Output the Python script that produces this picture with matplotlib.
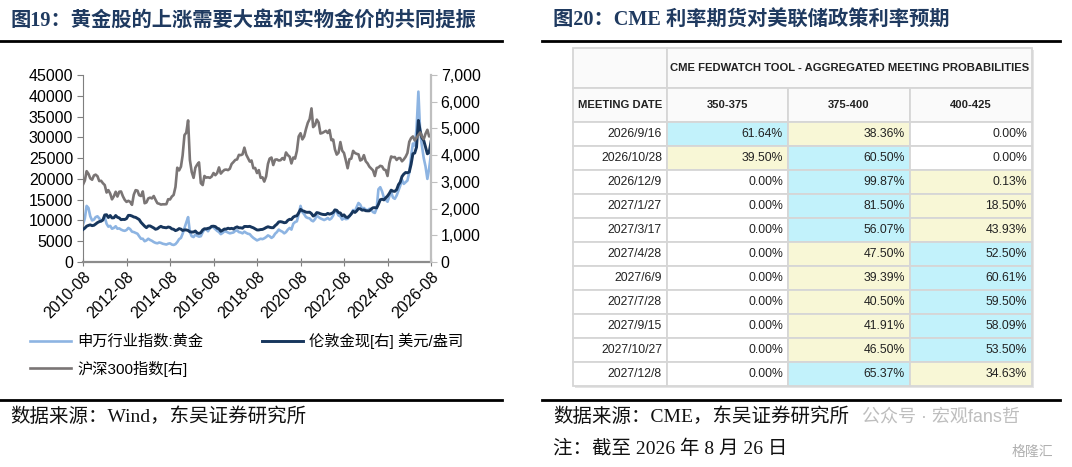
import matplotlib
matplotlib.use("Agg")
import matplotlib.pyplot as plt
import matplotlib.dates as mdates
from matplotlib.lines import Line2D
from matplotlib.patches import Rectangle
from matplotlib.ticker import FuncFormatter, MultipleLocator
import pandas as pd

plt.rcParams['font.family'] = ['Liberation Sans', 'Noto Sans CJK SC']

# ---- left chart data: monthly, 2010-08 .. 2026-08 ----
months = pd.date_range('2010-08-01', '2026-08-01', freq='MS')

# 申万行业指数:黄金 (left axis)
sw_gold = [
    9000, 10500, 13500, 13000, 11000,
    10000, 10200, 10800, 11000, 10500, 9800, 10200, 10800, 9200, 8500, 8700, 8000,
    8200, 8600, 8000, 8100, 7800, 7600, 7500, 7700, 8200, 7900, 7300, 7200,
    7000, 6800, 6200, 5600, 5600, 5000, 5200, 5600, 5300, 5100, 4800, 4600,
    4500, 4700, 4600, 4400, 4300, 4200, 4400, 4500, 4200, 4100, 4300, 4800,
    5500, 5800, 6800, 8200, 9500, 10800, 7200, 6200, 6000, 6600, 6300, 6100,
    6200, 7200, 7800, 7900, 7400, 8200, 8600, 8300, 7900, 7500, 7200, 6700,
    7000, 7400, 7300, 7100, 6900, 7000, 7100, 7500, 7600, 7200, 7100, 6900,
    7300, 7000, 6800, 6700, 6200, 5800, 5500, 5200, 5400, 5600, 5500, 5700,
    6000, 6400, 6200, 5800, 6100, 6800, 7200, 7800, 7500, 7300, 6900, 7200,
    7800, 8200, 7800, 9200, 9600, 9800, 11500, 13500, 12000, 11500, 10800, 10600,
    10500, 10000, 9800, 10300, 11200, 10800, 10500, 10300, 10100, 10300, 10600, 10200,
    10500, 11200, 12500, 12000, 11200, 11000, 10200, 10600, 10300, 10400, 11000, 11600,
    12500, 12200, 13200, 14200, 13800, 12800, 13000, 12600, 12400, 12800, 12600, 12000,
    11800, 13000, 17500, 18000, 17000, 15500, 15000, 14500, 15800, 16800, 15500, 15200,
    16000, 17200, 18300, 19800, 18800, 19200, 19600, 21500, 25500, 28500, 28000, 32000,
    41000, 31000, 28000, 25000, 23000, 20000, 22500, 26000,
]

# 伦敦金现[右] 美元/盎司
london_gold = [
    1215, 1270, 1340, 1370, 1390,
    1360, 1375, 1420, 1475, 1510, 1530, 1570, 1760, 1770, 1665, 1740, 1650,
    1655, 1740, 1675, 1650, 1585, 1595, 1590, 1625, 1745, 1745, 1720, 1685,
    1670, 1630, 1590, 1485, 1415, 1340, 1285, 1350, 1350, 1315, 1275, 1225,
    1245, 1300, 1335, 1300, 1290, 1280, 1310, 1295, 1240, 1225, 1175, 1200,
    1250, 1230, 1180, 1200, 1200, 1180, 1130, 1120, 1125, 1160, 1085, 1070,
    1100, 1200, 1245, 1240, 1260, 1275, 1335, 1340, 1325, 1265, 1240, 1150,
    1190, 1235, 1230, 1265, 1245, 1260, 1235, 1285, 1315, 1280, 1280, 1265,
    1330, 1330, 1325, 1335, 1305, 1280, 1240, 1200, 1200, 1215, 1220, 1250,
    1290, 1320, 1300, 1285, 1285, 1360, 1415, 1500, 1510, 1495, 1470, 1480,
    1560, 1600, 1590, 1680, 1715, 1730, 1840, 1970, 1920, 1900, 1865, 1860,
    1865, 1810, 1720, 1760, 1850, 1835, 1805, 1785, 1775, 1775, 1820, 1790,
    1815, 1855, 1950, 1935, 1850, 1835, 1730, 1765, 1680, 1665, 1725, 1800,
    1900, 1855, 1910, 2000, 1990, 1940, 1950, 1920, 1915, 1915, 1985, 2030,
    2035, 2025, 2160, 2330, 2350, 2325, 2400, 2470, 2570, 2690, 2650, 2645,
    2710, 2895, 2985, 3200, 3290, 3350, 3340, 3370, 3660, 4050, 4080, 4300,
    5300, 4900, 4650, 4550, 4300, 4050, 4100, 4500,
]

# 沪深300指数[右]
csi300 = [
    2900, 3050, 3400, 3300, 3130,
    3080, 3240, 3270, 3210, 3030, 3040, 2950, 2880, 2600, 2690, 2560, 2345,
    2460, 2630, 2450, 2630, 2640, 2460, 2330, 2250, 2290, 2250, 2140, 2520,
    2690, 2670, 2500, 2470, 2640, 2200, 2230, 2380, 2410, 2380, 2470, 2330,
    2200, 2180, 2150, 2160, 2160, 2165, 2350, 2340, 2450, 2510, 2810, 3530,
    3430, 3570, 3990, 4750, 4840, 5300, 3820, 3370, 3150, 3530, 3650, 3730,
    2950, 2880, 3220, 3160, 3170, 3150, 3200, 3330, 3250, 3330, 3540, 3310,
    3390, 3450, 3460, 3440, 3490, 3670, 3740, 3820, 3840, 4010, 4000, 4030,
    4280, 4020, 3900, 3760, 3800, 3510, 3520, 3330, 3440, 3150, 3170, 3010,
    3200, 3670, 3870, 3910, 3630, 3830, 3840, 3800, 3810, 3890, 3830, 4100,
    4000, 3940, 3690, 3910, 3870, 4160, 4700, 4820, 4590, 4700, 4980, 5210,
    5350, 5750, 5050, 5120, 5330, 5220, 4810, 4830, 4870, 4910, 4830, 4940,
    4560, 4580, 4220, 4020, 4090, 4490, 4170, 4080, 3800, 3510, 3850, 3870,
    4160, 4080, 4050, 4030, 3800, 3840, 4000, 3770, 3690, 3570, 3500, 3430,
    3220, 3520, 3540, 3600, 3580, 3460, 3440, 3220, 3700, 3950, 3920, 3930,
    3820, 3890, 3890, 3770, 3840, 3940, 4080, 4500, 4640, 4700, 4550, 4650,
    4750, 4850, 4700, 4600, 4800, 4950, 4700, 4750,
]

# ---- right table data ----
meeting_dates = ['2026/9/16', '2026/10/28', '2026/12/9', '2027/1/27', '2027/3/17',
                 '2027/4/28', '2027/6/9', '2027/7/28', '2027/9/15', '2027/10/27',
                 '2027/12/8']
rate_ranges = ['350-375', '375-400', '400-425']
p_350_375 = [61.64, 39.50, 0, 0, 0, 0, 0, 0, 0, 0, 0]
p_375_400 = [38.36, 60.50, 99.87, 81.50, 56.07, 47.50, 39.39, 40.50, 41.91, 46.50, 65.37]
p_400_425 = [0, 0, 0.13, 18.50, 43.93, 52.50, 60.61, 59.50, 58.09, 53.50, 34.63]

W, H = 1072, 467
fig = plt.figure(figsize=(W / 100, H / 100), dpi=100)

def fx(x):
    return x / W

def fy(y):
    return 1 - y / H

title_font = ['Liberation Serif', 'Noto Sans CJK SC']
navy = '#1f3a60'

# titles and rules
fig.text(fx(10), fy(21), '图19：黄金股的上涨需要大盘和实物金价的共同提振', family=title_font,
         fontsize=14.6, fontweight='bold', color=navy, va='center')
fig.text(fx(553), fy(21), '图20：CME 利率期货对美联储政策利率预期', family=title_font,
         fontsize=14.6, fontweight='bold', color=navy, va='center')
for x0, x1 in [(0, 502), (542, 1060)]:
    fig.add_artist(Line2D([fx(x0), fx(x1)], [fy(41), fy(41)], color='black', lw=2))
    fig.add_artist(Line2D([fx(x0), fx(x1)], [fy(400), fy(400)], color='black', lw=2))

fig.text(fx(10), fy(417), '数据来源：Wind，东吴证券研究所', family=title_font,
         fontsize=14, color='#111111', va='center')
fig.text(fx(553), fy(417), '数据来源：CME，东吴证券研究所', family=title_font,
         fontsize=14, color='#111111', va='center')
fig.text(fx(553), fy(449), '注：截至 2026 年 8 月 26 日', family=title_font,
         fontsize=14, color='#111111', va='center')
# watermark
fig.text(fx(862), fy(417), '公众号 · 宏观fans哲', fontsize=13, color='#a8a8a8',
         alpha=0.75, va='center')
fig.text(fx(1012), fy(452), '格隆汇', fontsize=10, color='#b0b0b0', va='center')

# ---- left line chart ----
ax = fig.add_axes([fx(83), fy(262), (431 - 83) / W, (262 - 75) / H])
ax2 = ax.twinx()

c_light = '#8db4e2'
c_dark = '#17365d'
c_grey = '#7a7575'

l1, = ax.plot(months, sw_gold, color=c_light, lw=1.9, label='申万行业指数:黄金')
l2, = ax2.plot(months, london_gold, color=c_dark, lw=2.1, label='伦敦金现[右] 美元/盎司')
l3, = ax2.plot(months, csi300, color=c_grey, lw=1.9, label='沪深300指数[右]')
ax2.set_zorder(ax.get_zorder() + 1)

ax.set_ylim(0, 45000)
ax.yaxis.set_major_locator(MultipleLocator(5000))
ax2.set_ylim(0, 7000)
ax2.yaxis.set_major_locator(MultipleLocator(1000))
ax2.yaxis.set_major_formatter(FuncFormatter(lambda v, p: f'{int(v):,}'))

ax.set_xlim(pd.Timestamp('2010-08-01'), pd.Timestamp('2026-08-01'))
ax.xaxis.set_major_locator(mdates.MonthLocator(bymonth=8, interval=24))
ax.xaxis.set_major_formatter(mdates.DateFormatter('%Y-%m'))
for lab in ax.get_xticklabels():
    lab.set_rotation(45)
    lab.set_ha('right')
    lab.set_rotation_mode('anchor')

for a in (ax, ax2):
    a.spines['top'].set_visible(False)
ax.spines['right'].set_visible(False)
ax2.spines['left'].set_visible(False)
ax2.spines['bottom'].set_visible(False)
ax.spines['left'].set_color('#7f7f7f')
ax.spines['bottom'].set_color('#8c8c8c')
ax.spines['bottom'].set_linewidth(1.6)
ax2.spines['right'].set_color('#bfbfbf')
ax2.spines['right'].set_linewidth(1.6)

ax.tick_params(axis='y', direction='out', length=4, color='#7f7f7f', labelsize=11.5, pad=3)
ax.tick_params(axis='x', direction='inout', length=6, color='#7f7f7f', labelsize=11.5, pad=2)
ax2.tick_params(axis='y', direction='out', length=4, color='#bfbfbf', labelsize=11.5, pad=3)

fig.legend([l1, l3, l2], [l1.get_label(), l3.get_label(), l2.get_label()],
           loc='upper left', bbox_to_anchor=(fx(30), fy(333)), ncol=2, frameon=False,
           fontsize=11, handlelength=2.7, handletextpad=0.4, columnspacing=3.8,
           labelspacing=0.75, borderpad=0, borderaxespad=0)

# ---- right table ----
tx0, ty0, tw, th = 573, 48, 459, 340
at = fig.add_axes([fx(tx0), fy(ty0 + th), tw / W, th / H])
at.set_xlim(0, tw)
at.set_ylim(th, 0)
at.axis('off')

col_x = [0, 94, 215, 337, 459]
h1, h2, rh = 40, 34, 24
grid_c = '#d6d6d6'
cyan = '#c2f2fb'
yellow = '#f8f7d6'
txt_c = '#222222'

# shadow
at.add_patch(Rectangle((2, 2), tw, h1 + h2 + rh * len(meeting_dates), facecolor='#e4e4e4',
                       edgecolor='none', zorder=0, clip_on=False))

def cell(x0, y0, w, h, fc='white'):
    at.add_patch(Rectangle((x0, y0), w, h, facecolor=fc, edgecolor=grid_c, lw=1.3,
                           zorder=1, clip_on=False))

hdr_fs = 8.1
val_fs = 8.8
cell(0, 0, col_x[1], h1, '#fafafa')
cell(col_x[1], 0, tw - col_x[1], h1, '#fafafa')
at.text((col_x[1] + tw) / 2, h1 / 2, 'CME FEDWATCH TOOL - AGGREGATED MEETING PROBABILITIES',
        ha='center', va='center', fontsize=hdr_fs, fontweight='bold', color=txt_c, zorder=3)
cell(0, h1, col_x[1], h2, '#fafafa')
at.text(col_x[1] / 2, h1 + h2 / 2, 'MEETING DATE', ha='center', va='center', fontsize=hdr_fs,
        fontweight='bold', color=txt_c, zorder=3)
for j, rr in enumerate(rate_ranges):
    cell(col_x[j + 1], h1, col_x[j + 2] - col_x[j + 1], h2, '#fafafa')
    at.text((col_x[j + 1] + col_x[j + 2]) / 2, h1 + h2 / 2, rr, ha='center', va='center',
            fontsize=hdr_fs, fontweight='bold', color=txt_c, zorder=3)

for i, d in enumerate(meeting_dates):
    y0 = h1 + h2 + i * rh
    cell(0, y0, col_x[1], rh)
    at.text(col_x[1] - 5, y0 + rh / 2, d, ha='right', va='center', fontsize=val_fs,
            color=txt_c, zorder=3)
    row = [p_350_375[i], p_375_400[i], p_400_425[i]]
    top = max(row)
    for j, v in enumerate(row):
        if v == top:
            fc = cyan
        elif v > 0:
            fc = yellow
        else:
            fc = 'white'
        cell(col_x[j + 1], y0, col_x[j + 2] - col_x[j + 1], rh, fc)
        at.text(col_x[j + 2] - 5, y0 + rh / 2, f'{v:.2f}%', ha='right', va='center',
                fontsize=val_fs, color=txt_c, zorder=3)

fig.savefig('out.png', dpi=100)
